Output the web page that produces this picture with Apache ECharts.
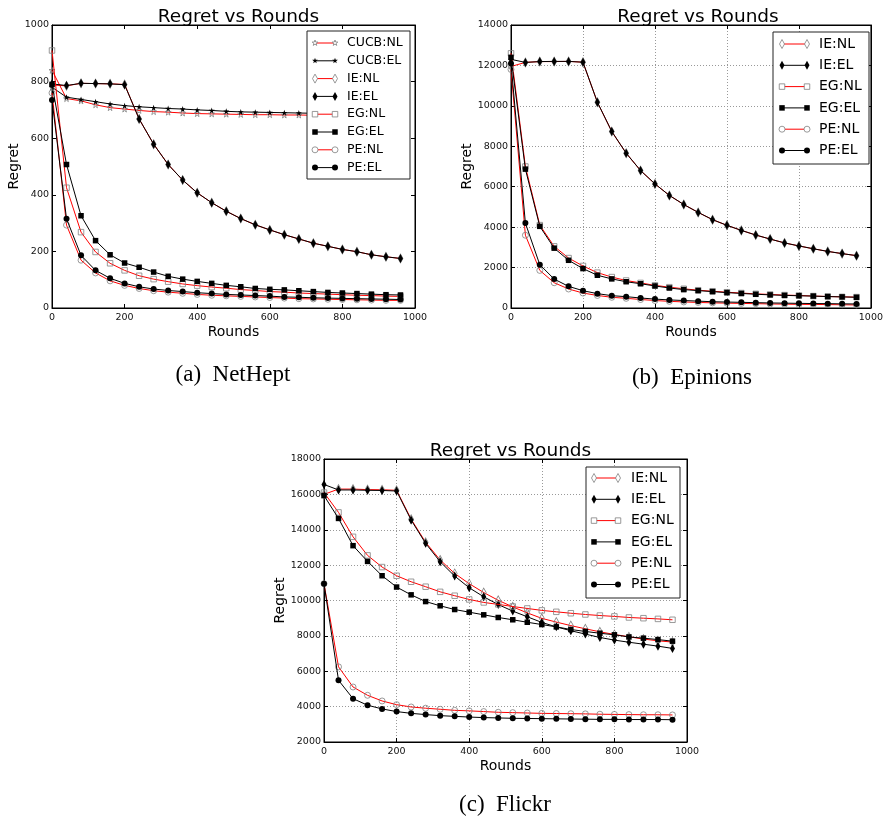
<!DOCTYPE html>
<html>
<head>
<meta charset="utf-8">
<script src="https://cdn.jsdelivr.net/npm/echarts@6/dist/echarts.min.js"></script>
<style>
html,body{margin:0;padding:0;background:#fff;}
#chart{width:886px;height:821px;}
</style>
</head>
<body>
<div id="chart"></div>
<script>
// ---------- data ----------
const rounds = [0,40,80,120,160,200,240,280,320,360,400,440,480,520,560,600,640,680,720,760,800,840,880,920,960];

// (a) NetHept
const netheptCucbNL = [840,740,732,718,708,703,698,694,692,689,687,686,685,684,683,683,682,682,681,681,681,680,680,680,680];
const netheptCucbEL = [780,745,737,729,721,715,711,708,705,703,700,698,695,693,692,691,690,689,688,688,687,687,686,686,686];
const netheptIeNL   = [788,785,794,793,792,790,668,579,507,452,407,372,342,316,294,276,259,244,229,218,207,199,188,181,175];
const netheptIeEL   = [792,786,794,793,792,789,668,579,507,452,407,372,342,316,294,276,259,244,229,218,207,199,188,181,175];
const netheptEgNL   = [910,425,268,198,158,133,114,102,93,85,79,74,70,65,62,58,56,53,51,49,47,45,44,42,41];
const netheptEgEL   = [790,507,326,238,188,159,144,127,112,102,94,87,80,75,69,66,64,61,58,55,53,51,49,47,46];
const netheptPeNL   = [760,293,169,124,96,80,69,61,56,52,48,45,43,41,39,37,35,33,32,31,30,29,28,27,27];
const netheptPeEL   = [735,315,186,133,105,87,75,67,62,58,54,51,48,46,44,42,39,38,36,35,34,33,32,31,30];

// (b) Epinions
const epinionsIeNL = [11950,12150,12190,12190,12200,12160,10180,8730,7660,6800,6140,5570,5120,4730,4370,4090,3840,3610,3410,3220,3070,2930,2800,2690,2590];
const epinionsIeEL = [12300,12150,12190,12200,12200,12160,10180,8730,7660,6800,6140,5570,5120,4730,4370,4090,3840,3610,3410,3220,3070,2930,2800,2690,2590];
const epinionsEgNL = [12600,7000,4100,3050,2470,2080,1750,1530,1360,1240,1120,1030,950,880,830,780,740,700,670,640,620,590,570,550,540];
const epinionsEgEL = [12400,6870,4040,2960,2360,1950,1620,1440,1300,1200,1090,990,910,860,810,760,720,680,650,625,605,590,565,550,530];
const epinionsPeNL = [11800,3600,1860,1250,940,740,620,530,480,420,370,330,300,275,255,240,225,215,200,190,180,175,170,160,150];
const epinionsPeEL = [12100,4200,2140,1430,1070,856,710,610,560,495,440,400,370,340,310,295,280,265,250,240,230,220,215,205,200];

// (c) Flickr
const flickrIeNL = [16000,16300,16300,16270,16260,16230,14600,13290,12290,11530,10950,10450,10010,9640,9300,8990,8780,8580,8400,8230,8080,7950,7820,7720,7650];
const flickrIeEL = [16560,16250,16250,16230,16220,16190,14550,13230,12190,11380,10720,10210,9770,9400,9080,8760,8510,8290,8100,7910,7760,7640,7530,7420,7290];
const flickrEgNL = [16100,14980,13600,12550,11890,11400,11060,10780,10490,10270,10060,9890,9780,9660,9550,9440,9360,9280,9210,9150,9100,9040,9000,8960,8910];
const flickrEgEL = [15930,14640,13100,12210,11400,10760,10320,9940,9700,9490,9340,9190,9040,8910,8770,8640,8510,8360,8250,8150,8060,7940,7870,7790,7700];
const flickrPeNL = [10950,6250,5110,4640,4320,4110,3980,3910,3850,3790,3760,3720,3680,3660,3640,3620,3610,3600,3590,3570,3560,3550,3540,3540,3530];
const flickrPeEL = [10950,5490,4450,4080,3870,3720,3620,3550,3490,3450,3410,3380,3360,3340,3330,3320,3310,3300,3290,3280,3280,3270,3270,3270,3260];

const titleText = 'Regret vs Rounds';
const xName = 'Rounds';
const yName = 'Regret';
const captions = ['(a)  NetHept','(b)  Epinions','(c)  Flickr'];

// ---------- styling ----------
const FONT = 'DejaVu Sans';
const RED = '#ff0000';
const BLACK = '#000000';
const MARK_EDGE = '#808080';
const STAR_PATH = 'path://M0,-1L0.2245,-0.309L0.951,-0.309L0.363,0.118L0.588,0.809L0,0.382L-0.588,0.809L-0.363,0.118L-0.951,-0.309L-0.2245,-0.309Z';
const markers = {
  CUCB: {symbol: STAR_PATH, size: 6},
  IE:   {symbol: 'diamond', size: [5,9]},
  EG:   {symbol: 'rect', size: 5.5},
  PE:   {symbol: 'circle', size: 6}
};

const grids = [
  {left: 52, top: 25, width: 363, height: 283, ymin: 0, ymax: 1000, yint: 200, split: false, yGap: 28},
  {left: 511, top: 25, width: 364, height: 283, ymin: 0, ymax: 14000, yint: 2000, split: true, yGap: 34},
  {left: 324, top: 459, width: 363, height: 283, ymin: 2000, ymax: 18000, yint: 2000, split: true, yGap: 34}
];

const panelSeries = [
  [['CUCB:NL', netheptCucbNL], ['CUCB:EL', netheptCucbEL], ['IE:NL', netheptIeNL], ['IE:EL', netheptIeEL],
   ['EG:NL', netheptEgNL], ['EG:EL', netheptEgEL], ['PE:NL', netheptPeNL], ['PE:EL', netheptPeEL]],
  [['IE:NL', epinionsIeNL], ['IE:EL', epinionsIeEL], ['EG:NL', epinionsEgNL], ['EG:EL', epinionsEgEL],
   ['PE:NL', epinionsPeNL], ['PE:EL', epinionsPeEL]],
  [['IE:NL', flickrIeNL], ['IE:EL', flickrIeEL], ['EG:NL', flickrEgNL], ['EG:EL', flickrEgEL],
   ['PE:NL', flickrPeNL], ['PE:EL', flickrPeEL]]
];

const gridOpt = [], xAxes = [], yAxes = [], series = [], titles = [], graphics = [];

const tickStyle = {show: true, inside: true, length: 4, lineStyle: {color: '#000', width: 1}};
const lineStyleAxis = {show: true, onZero: false, lineStyle: {color: '#000', width: 1}};
const splitStyle = {show: true, lineStyle: {color: '#999', type: [1,2], width: 1}};
const plainNum = v => String(v);

grids.forEach((g, gi) => {
  gridOpt.push({left: g.left, top: g.top, width: g.width, height: g.height, containLabel: false,
    show: true, borderColor: '#000', borderWidth: 1, backgroundColor: 'transparent'});
  xAxes.push({type: 'value', gridIndex: gi, position: 'bottom', min: 0, max: 1000, interval: 200,
    axisLine: lineStyleAxis, axisTick: tickStyle,
    axisLabel: {fontFamily: FONT, fontSize: 9.5, color: '#111', margin: 5, formatter: plainNum},
    splitLine: g.split ? splitStyle : {show: false},
    name: xName, nameLocation: 'middle', nameGap: 17,
    nameTextStyle: {fontFamily: FONT, fontSize: 14, color: '#000'}});
  xAxes.push({type: 'value', gridIndex: gi, position: 'top', min: 0, max: 1000, interval: 200,
    axisLine: lineStyleAxis, axisTick: tickStyle, axisLabel: {show: false}, splitLine: {show: false}});
  yAxes.push({type: 'value', gridIndex: gi, position: 'left', min: g.ymin, max: g.ymax, interval: g.yint,
    axisLine: lineStyleAxis, axisTick: tickStyle,
    axisLabel: {fontFamily: FONT, fontSize: 9.5, color: '#111', margin: 3, formatter: plainNum},
    splitLine: g.split ? splitStyle : {show: false},
    name: yName, nameLocation: 'middle', nameGap: g.yGap,
    nameTextStyle: {fontFamily: FONT, fontSize: 14, color: '#000'}});
  yAxes.push({type: 'value', gridIndex: gi, position: 'right', min: g.ymin, max: g.ymax, interval: g.yint,
    axisLine: lineStyleAxis, axisTick: tickStyle, axisLabel: {show: false}, splitLine: {show: false}});

  const cx = g.left + g.width / 2;
  titles.push({text: titleText, left: cx, top: g.top - 22, textAlign: 'center',
    textStyle: {fontFamily: FONT, fontSize: 18.5, fontWeight: 'normal', color: '#000'}});

  panelSeries[gi].forEach(([name, vals], si) => {
    const alg = name.split(':')[0];
    const nl = name.endsWith('NL');
    const mk = markers[alg];
    series.push({
      type: 'line', name: name, xAxisIndex: gi * 2, yAxisIndex: gi * 2,
      data: rounds.map((r, i) => [r, vals[i]]),
      symbol: mk.symbol, symbolSize: mk.size, showSymbol: true, showAllSymbol: true,
      lineStyle: {color: nl ? RED : BLACK, width: 1},
      itemStyle: nl ? {color: 'rgba(255,255,255,0)', borderColor: MARK_EDGE, borderWidth: 0.8}
                    : {color: BLACK, borderWidth: 0},
      z: 2 + si, animation: false, silent: true
    });
  });
});

const capPos = [[228, 358], [687, 361], [500, 788]];
capPos.forEach((p, i) => {
  titles.push({text: captions[i], left: p[0], top: p[1], textAlign: 'center',
    textStyle: {fontFamily: 'Liberation Serif', fontSize: 23, fontWeight: 'normal', color: '#000'}});
});

// ---------- legends (drawn as graphics) ----------
function symbolGraphic(alg, nl, cx, cy) {
  const fill = nl ? '#fff' : '#000';
  const stroke = nl ? MARK_EDGE : '#000';
  const st = {fill: fill, stroke: stroke, lineWidth: nl ? 0.8 : 0};
  if (alg === 'PE') return {type: 'circle', shape: {cx: cx, cy: cy, r: 3}, style: st, z: 101};
  if (alg === 'EG') return {type: 'rect', shape: {x: cx - 2.75, y: cy - 2.75, width: 5.5, height: 5.5}, style: st, z: 101};
  if (alg === 'IE') return {type: 'polygon', shape: {points: [[cx, cy - 4.5], [cx + 2.5, cy], [cx, cy + 4.5], [cx - 2.5, cy]]}, style: st, z: 101};
  const pts = [];
  for (let k = 0; k < 10; k++) {
    const r = k % 2 === 0 ? 3 : 1.2;
    const a = -Math.PI / 2 + k * Math.PI / 5;
    pts.push([cx + r * Math.cos(a), cy + r * Math.sin(a)]);
  }
  return {type: 'polygon', shape: {points: pts}, style: st, z: 101};
}

const legendBoxes = [
  {x: 307, y: 31, w: 103, h: 148, y0: 43, step: 17.8, lx1: 315, lx2: 335, tx: 347, fs: 12.5},
  {x: 773, y: 32, w: 96, h: 132, y0: 44, step: 21.3, lx1: 782, lx2: 807, tx: 819, fs: 14},
  {x: 586, y: 467, w: 94, h: 131, y0: 478, step: 21.3, lx1: 594, lx2: 618, tx: 631, fs: 14}
];
legendBoxes.forEach((b, gi) => {
  graphics.push({type: 'rect', shape: {x: b.x, y: b.y, width: b.w, height: b.h},
    style: {fill: '#fff', stroke: '#222', lineWidth: 1}, z: 100});
  panelSeries[gi].forEach(([name], i) => {
    const alg = name.split(':')[0];
    const nl = name.endsWith('NL');
    const y = b.y0 + i * b.step;
    graphics.push({type: 'line', shape: {x1: b.lx1, y1: y, x2: b.lx2, y2: y},
      style: {stroke: nl ? RED : BLACK, lineWidth: 1}, z: 100});
    graphics.push(symbolGraphic(alg, nl, b.lx1, y));
    graphics.push(symbolGraphic(alg, nl, b.lx2, y));
    graphics.push({type: 'text', x: b.tx, y: y, z: 101,
      style: {text: name, fontFamily: FONT, fontSize: b.fs, fill: '#000', verticalAlign: 'middle', align: 'left'}});
  });
});

const chart = echarts.init(document.getElementById('chart'), null, {renderer: 'canvas'});
chart.setOption({
  backgroundColor: '#ffffff',
  animation: false,
  title: titles,
  grid: gridOpt,
  xAxis: xAxes,
  yAxis: yAxes,
  series: series,
  graphic: graphics
});
</script>
</body>
</html>
